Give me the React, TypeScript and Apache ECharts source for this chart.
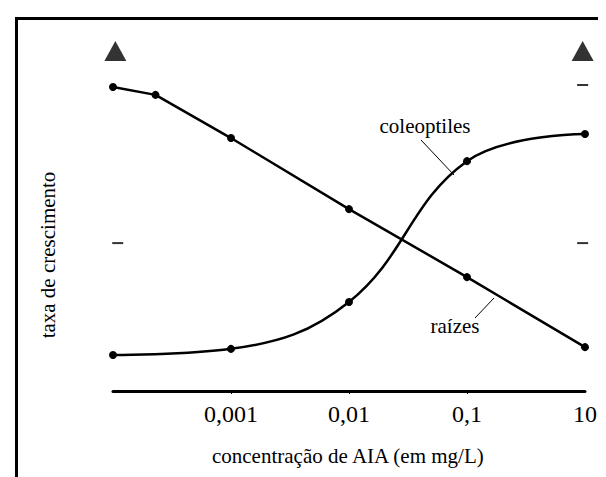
import React, { useEffect, useRef } from "react";
import * as echarts from "echarts";

// x positions are in log-axis units: 0 -> 0,001 ; 1 -> 0,01 ; 2 -> 0,1 ; 3 -> 10 (broken scale)
const tickPositions = [0, 1, 2, 3];
const tickLabels = ["0,001", "0,01", "0,1", "10"];
const tickMarkPositions = [0, 1, 2];

const raizesX = [-1, -0.64, 0, 1, 2, 3];
const raizesY = [8.94, 8.71, 7.44, 5.35, 3.35, 1.29];

const coleoptilesX = [-1, 0, 1, 2, 3];
const coleoptilesY = [1.06, 1.24, 2.62, 6.76, 7.56];

const triangleMarks = [[-0.98, 10], [2.98, 10]];
const dashMarks = [[-0.96, 4.35], [2.98, 4.35], [2.98, 9.0]];

const xAxisTitle = "concentração de AIA (em mg/L)";
const yAxisTitle = "taxa de crescimento";
const seriesNames = ["raízes", "coleoptiles"];

const font = (size: number) => `${size}px 'Liberation Serif'`;

let measureCtx: CanvasRenderingContext2D | null = null;
const measure = (text: string, size: number) => {
  if (!measureCtx) measureCtx = document.createElement("canvas").getContext("2d");
  if (!measureCtx) return text.length * size * 0.45;
  measureCtx.font = font(size);
  return measureCtx.measureText(text).width;
};

// centred text built from left/top-aligned text (default alignment)
const centredText = (text: string, size: number, cx: number, cy: number) => ({
  type: "text",
  x: cx - measure(text, size) / 2,
  y: cy - size / 2,
  style: { text, font: font(size), fill: "#000" },
});

export default function App() {
  const ref = useRef<HTMLDivElement>(null);
  useEffect(() => {
    if (!ref.current) return;
    const chart = echarts.init(ref.current, null, { renderer: "svg" });
    const lineStyle = { color: "#000", width: 2.5 };
    chart.setOption({
      animation: false,
      grid: { left: 105, right: 29, top: 43, bottom: 94, containLabel: false },
      xAxis: {
        type: "value",
        min: -1,
        max: 3,
        axisLine: { show: true, lineStyle: { color: "#000", width: 3 } },
        axisTick: {
          show: true,
          customValues: tickMarkPositions,
          length: 3,
          lineStyle: { color: "#000", width: 1 },
        },
        axisLabel: { show: false },
        splitLine: { show: false },
      },
      yAxis: { type: "value", min: 0, max: 10, show: false },
      series: [
        {
          name: seriesNames[0],
          type: "line",
          data: raizesX.map((x, i) => [x, raizesY[i]]),
          symbol: "circle",
          symbolSize: 8,
          itemStyle: { color: "#000" },
          lineStyle,
        },
        {
          name: seriesNames[1],
          type: "line",
          smooth: 0.4,
          data: coleoptilesX.map((x, i) => [x, coleoptilesY[i]]),
          symbol: "circle",
          symbolSize: 8,
          itemStyle: { color: "#000" },
          lineStyle,
        },
        {
          type: "scatter",
          data: triangleMarks,
          symbol: "triangle",
          symbolSize: [22, 20],
          itemStyle: { color: "#000" },
          silent: true,
        },
        {
          type: "scatter",
          data: dashMarks,
          symbol: "rect",
          symbolSize: [11, 2],
          itemStyle: { color: "#000" },
          silent: true,
        },
      ],
    });

    const axisY = chart.convertToPixel({ yAxisIndex: 0 }, 0) as number;
    const xLeft = chart.convertToPixel({ xAxisIndex: 0 }, -1) as number;
    const xRight = chart.convertToPixel({ xAxisIndex: 0 }, 3) as number;
    const tickTexts = tickPositions.map((p, i) =>
      centredText(tickLabels[i], 24, chart.convertToPixel({ xAxisIndex: 0 }, p) as number, axisY + 23)
    );
    const yTitleW = measure(yAxisTitle, 21);

    chart.setOption({
      graphic: [
        { type: "line", shape: { x1: 7, y1: 10.5, x2: 606, y2: 10.5 }, style: { stroke: "#000", lineWidth: 3 } },
        { type: "line", shape: { x1: 8.5, y1: 9, x2: 8.5, y2: 477 }, style: { stroke: "#000", lineWidth: 3 } },
        ...tickTexts,
        centredText(xAxisTitle, 21, (xLeft + xRight) / 2, axisY + 65),
        {
          type: "text",
          x: 40 - 10.5,
          y: 247 + yTitleW / 2,
          rotation: Math.PI / 2,
          style: { text: yAxisTitle, font: font(21), fill: "#000" },
        },
        centredText(seriesNames[1], 21, 417, 118),
        { type: "line", shape: { x1: 413, y1: 132, x2: 446, y2: 167 }, style: { stroke: "#000", lineWidth: 1 } },
        centredText(seriesNames[0], 21, 447, 318),
        { type: "line", shape: { x1: 467, y1: 310, x2: 486, y2: 290 }, style: { stroke: "#000", lineWidth: 1 } },
      ],
    });
    return () => chart.dispose();
  }, []);
  return <div ref={ref} style={{ width: 606, height: 477 }} />;
}
